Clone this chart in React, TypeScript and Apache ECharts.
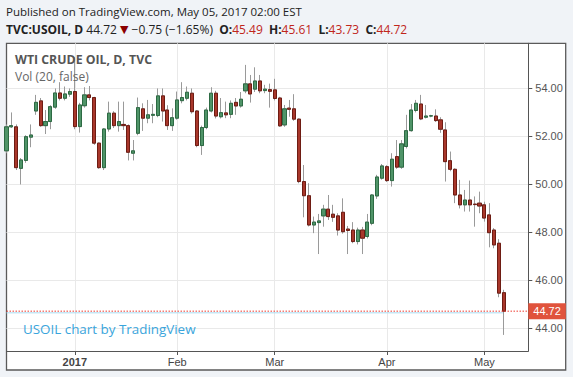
import React, { useEffect, useRef } from 'react';
import * as echarts from 'echarts';

// trading days (plus 5 empty future days at the right edge)
const dates: string[] = [
  '2016-12-13','2016-12-14','2016-12-15','2016-12-16','2016-12-19','2016-12-20','2016-12-21','2016-12-22','2016-12-23','2016-12-26','2016-12-27','2016-12-28','2016-12-29','2016-12-30',
  '2017-01-03','2017-01-04','2017-01-05','2017-01-06','2017-01-09','2017-01-10','2017-01-11','2017-01-12','2017-01-13','2017-01-16','2017-01-17','2017-01-18','2017-01-19','2017-01-20','2017-01-23','2017-01-24','2017-01-25','2017-01-26','2017-01-27','2017-01-30','2017-01-31',
  '2017-02-01','2017-02-02','2017-02-03','2017-02-06','2017-02-07','2017-02-08','2017-02-09','2017-02-10','2017-02-13','2017-02-14','2017-02-15','2017-02-16','2017-02-17','2017-02-20','2017-02-21','2017-02-22','2017-02-23','2017-02-24','2017-02-27','2017-02-28',
  '2017-03-01','2017-03-02','2017-03-03','2017-03-06','2017-03-07','2017-03-08','2017-03-09','2017-03-10','2017-03-13','2017-03-14','2017-03-15','2017-03-16','2017-03-17','2017-03-20','2017-03-21','2017-03-22','2017-03-23','2017-03-24','2017-03-27','2017-03-28','2017-03-29','2017-03-30','2017-03-31',
  '2017-04-03','2017-04-04','2017-04-05','2017-04-06','2017-04-07','2017-04-10','2017-04-11','2017-04-12','2017-04-13','2017-04-14','2017-04-17','2017-04-18','2017-04-19','2017-04-20','2017-04-21','2017-04-24','2017-04-25','2017-04-26','2017-04-27','2017-04-28',
  '2017-05-01','2017-05-02','2017-05-03','2017-05-04','2017-05-05',
  '2017-05-08','2017-05-09','2017-05-10','2017-05-11','2017-05-12',
];

const opens: number[] = [
  51.40, 52.40, 52.40, 50.67, 51.00, 51.97, 53.06, 53.48, 52.45, 52.62, 53.22, 53.81, 53.59, 53.76,
  53.87, 52.41, 53.28, 53.73, 53.62, 51.72, 50.70, 52.31, 52.97, 52.45, 52.50, 52.45, 51.30, 52.13, 53.15, 52.76, 52.88, 52.87, 53.69, 53.10, 52.45,
  52.76, 53.49, 53.59, 53.80, 53.06, 51.62, 52.37, 53.06, 53.80, 52.82, 52.98, 52.92, 53.42, 53.27, 53.90, 54.19, 53.97, 54.31, 53.91, 53.95,
  53.94, 53.60, 52.48, 53.18, 53.15, 52.72, 50.12, 49.53, 48.31, 48.41, 48.69, 48.97, 48.76, 48.69, 48.84, 48.14, 48.10, 47.62, 48.10, 47.83, 48.38, 49.52, 50.26,
  50.74, 50.16, 51.16, 50.72, 51.58, 52.24, 53.08, 53.35, 52.80, 52.85, 52.85, 52.69, 52.27, 50.99, 50.63, 49.56, 49.15, 49.35, 49.18, 49.22,
  49.15, 48.73, 48.10, 47.55, 45.49,
];
const highs: number[] = [
  52.50, 53.00, 52.50, 51.10, 52.05, 52.50, 53.73, 53.60, 53.10, 53.30, 54.00, 54.26, 54.08, 54.00,
  55.30, 53.40, 54.05, 54.10, 53.65, 51.75, 52.35, 53.45, 53.05, 53.45, 53.45, 52.50, 51.85, 53.62, 53.38, 53.52, 53.35, 54.00, 54.00, 53.30, 53.17,
  53.87, 54.26, 54.08, 54.00, 53.10, 52.45, 53.20, 54.05, 53.90, 53.60, 53.45, 53.50, 53.60, 53.85, 54.98, 54.56, 54.88, 54.56, 54.15, 54.20,
  54.40, 53.65, 53.31, 53.52, 53.76, 52.75, 50.81, 50.05, 48.66, 48.77, 49.15, 49.56, 49.15, 48.80, 49.42, 48.27, 48.43, 48.20, 48.23, 48.77, 49.60, 50.40, 50.85,
  50.80, 51.30, 51.85, 51.85, 52.90, 53.35, 53.52, 53.73, 53.31, 52.90, 53.13, 52.80, 52.59, 51.37, 50.67, 50.19, 49.77, 50.16, 49.50, 49.70,
  49.28, 49.22, 48.18, 47.72, 45.61,
];
const lows: number[] = [
  51.30, 52.35, 50.60, 50.00, 50.90, 51.55, 52.90, 52.40, 52.10, 52.30, 53.15, 53.50, 53.50, 53.65,
  52.30, 52.16, 53.20, 53.50, 51.65, 50.65, 50.60, 52.20, 52.35, 52.20, 52.27, 51.00, 51.00, 52.05, 52.23, 52.55, 52.55, 52.80, 52.62, 52.27, 52.23,
  52.70, 53.38, 53.50, 52.95, 51.55, 51.23, 52.30, 53.00, 52.75, 52.75, 52.76, 52.76, 52.90, 53.20, 53.80, 53.41, 53.85, 53.80, 53.80, 53.20,
  53.50, 52.40, 52.40, 52.82, 52.65, 50.05, 48.63, 48.25, 47.97, 47.10, 48.24, 48.52, 48.44, 47.87, 47.95, 47.10, 47.55, 47.50, 47.10, 47.75, 48.30, 49.40, 50.20,
  50.10, 49.91, 50.65, 50.65, 51.50, 52.20, 53.00, 52.68, 52.75, 52.80, 52.60, 52.15, 50.12, 50.55, 49.22, 49.00, 48.87, 48.87, 48.24, 48.80,
  48.45, 47.38, 47.34, 45.30, 43.73,
];
const closes: number[] = [
  52.40, 52.45, 50.70, 51.02, 51.99, 52.06, 53.42, 52.45, 52.62, 53.24, 53.81, 53.59, 53.77, 53.87,
  52.41, 53.31, 53.73, 53.62, 51.72, 50.70, 52.31, 52.97, 52.45, 52.62, 52.45, 51.34, 51.40, 53.20, 52.76, 52.90, 52.92, 53.69, 53.06, 52.45, 52.78,
  53.52, 53.62, 53.84, 53.03, 51.62, 52.37, 53.10, 53.80, 52.85, 52.99, 52.90, 53.38, 53.27, 53.55, 54.19, 53.77, 54.31, 53.90, 53.97, 53.88,
  53.58, 52.44, 53.15, 53.13, 52.72, 50.12, 49.53, 48.31, 48.43, 48.48, 48.97, 48.66, 48.63, 48.10, 48.03, 48.08, 47.62, 48.10, 47.76, 48.43, 49.56, 50.31, 50.77,
  50.16, 51.05, 50.72, 51.69, 52.24, 53.10, 53.38, 52.73, 52.85, 52.86, 52.66, 52.30, 50.95, 50.63, 49.56, 49.15, 49.35, 49.15, 49.16, 49.10,
  48.60, 47.99, 47.48, 45.47, 44.72,
];

const monthLabels: Record<string, string> = {
  '2017-01-03': '2017',
  '2017-02-01': 'Feb',
  '2017-03-01': 'Mar',
  '2017-04-03': 'Apr',
  '2017-05-01': 'May',
};
const yTicks: number[] = [44, 46, 48, 50, 52, 54];
const lastPrice = 44.72;
const lastPriceShadow = 44.65;

const UP = '#4f9468';
const UP_BORDER = '#2d6a43';
const DOWN = '#a8372b';
const DOWN_BORDER = '#6e1c13';
const WICK = '#9a9a9a';
const AXIS = '#555';
const GRID = '#e9e9e9';

export default function App() {
  const ref = useRef<HTMLDivElement>(null);
  useEffect(() => {
    const chart = echarts.init(ref.current!, null, { renderer: 'svg' });
    const wickData = opens.map((o, i) => [o, closes[i], lows[i], highs[i]]);
    const bodyData = opens.map((o, i) => [o, closes[i], Math.min(o, closes[i]), Math.max(o, closes[i])]);
    const isMonth = (_i: number, v: string) => v in monthLabels;
    const lastIdx = opens.length - 1;

    chart.setOption({
      animation: false,
      backgroundColor: '#f0f3f7',
      grid: { left: 6.5, top: 43.3, right: 44.7, bottom: 26, containLabel: false },
      xAxis: {
        type: 'category',
        data: dates,
        boundaryGap: false,
        axisLine: { show: true, lineStyle: { color: AXIS, width: 1 } },
        axisTick: { show: true, interval: isMonth, length: 4, lineStyle: { color: AXIS } },
        splitLine: { show: true, interval: isMonth, lineStyle: { color: GRID, width: 1 } },
        axisLabel: {
          interval: isMonth,
          margin: 5,
          formatter: (v: string) => (v === '2017-01-03' ? '{b|2017}' : '{n|' + (monthLabels[v] || '') + '}'),
          rich: {
            b: { fontWeight: 'bold', fontSize: 11, color: '#444', fontFamily: 'Liberation Sans, Arial' },
            n: { fontSize: 11, color: '#444', fontFamily: 'Liberation Sans, Arial' },
          },
        },
      },
      yAxis: {
        type: 'value',
        position: 'right',
        min: 43.06,
        max: 55.88,
        scale: true,
        axisLine: { show: true, lineStyle: { color: AXIS, width: 1 } },
        axisTick: { show: true, length: 4, customValues: yTicks, lineStyle: { color: AXIS } },
        axisLabel: {
          customValues: yTicks,
          formatter: (v: number) => v.toFixed(2),
          color: '#555',
          fontSize: 11,
          margin: 7,
          fontFamily: 'Liberation Sans, Arial',
        },
        splitLine: { show: true, lineStyle: { color: GRID, width: 1 } },
      },
      series: [
        {
          type: 'line',
          name: 'shadow',
          data: [[dates[0], lastPriceShadow], [dates[lastIdx], lastPriceShadow]],
          symbol: 'none',
          silent: true,
          lineStyle: { color: '#a9dcf2', width: 1, type: 'solid' },
          z: 1,
        },
        {
          type: 'candlestick',
          name: 'wicks',
          data: wickData,
          barWidth: 3.6,
          clip: true,
          silent: true,
          itemStyle: {
            color: 'rgba(0,0,0,0)',
            color0: 'rgba(0,0,0,0)',
            borderColor: WICK,
            borderColor0: WICK,
            borderColorDoji: WICK,
            borderWidth: 1,
          },
          z: 2,
        },
        {
          type: 'candlestick',
          name: 'bodies',
          data: bodyData,
          barWidth: 3.6,
          clip: true,
          silent: true,
          itemStyle: {
            color: UP,
            color0: DOWN,
            borderColor: UP_BORDER,
            borderColor0: DOWN_BORDER,
            borderColorDoji: DOWN_BORDER,
            borderWidth: 1,
          },
          z: 3,
        },
        {
          type: 'line',
          name: 'last',
          data: [[dates[0], lastPrice], [dates[dates.length - 1], lastPrice]],
          symbol: 'none',
          silent: true,
          clip: false,
          lineStyle: { color: '#ee3b30', width: 1, type: [1.5, 1.5] },
          z: 4,
          endLabel: {
            show: true,
            distance: 0,
            formatter: () => lastPrice.toFixed(2),
            backgroundColor: '#e0533c',
            color: '#fff',
            fontSize: 11,
            fontFamily: 'Liberation Sans, Arial',
            lineHeight: 12,
            padding: [2, 5, 2, 5],
          },
        },
      ],
      graphic: [
        {
          type: 'rect',
          z: -10,
          silent: true,
          shape: { x: 6.5, y: 43.3, width: 559.2, height: 326.7 },
          style: { fill: '#ffffff', stroke: '#5a5a5a', lineWidth: 1.3 },
        },
        {
          type: 'text',
          x: 6,
          y: 5,
          z: 10,
          style: { text: 'Published on TradingView.com, May 05, 2017 02:00 EST', font: '11.5px "Open Sans"', fill: '#222' },
        },
        {
          type: 'text',
          x: 6,
          y: 23,
          z: 10,
          style: {
            text: '{b|TVC:USOIL, D} 44.72 {t|▼} \u22120.75 (\u22121.65%)  {b|O:}{r|45.49}  {b|H:}{r|45.61}  {b|L:}{r|43.73}  {b|C:}{r|44.72}',
            font: '12px "Open Sans"',
            fill: '#222',
            rich: {
              b: { fontWeight: 'bold', fontSize: 12, fontFamily: 'Open Sans', fill: '#222' },
              r: { fontSize: 12, fontFamily: 'Open Sans', fill: '#c0261b' },
              t: { fontSize: 11, fontFamily: 'DejaVu Sans', fill: '#8b0000' },
            },
          },
        },
        {
          type: 'text',
          x: 15,
          y: 53,
          z: 10,
          style: { text: 'WTI CRUDE OIL, D, TVC', font: 'bold 12.3px "Open Sans"', fill: '#555' },
        },
        {
          type: 'text',
          x: 15,
          y: 70,
          z: 10,
          style: { text: 'Vol (20, false)', font: '12px "Open Sans"', fill: '#666' },
        },
        {
          type: 'text',
          x: 23,
          y: 322,
          z: 10,
          style: { text: 'USOIL chart by TradingView', font: '13.4px "Open Sans"', fill: '#3aa5dc' },
        },
      ],
    });
    return () => chart.dispose();
  }, []);
  return <div ref={ref} style={{ position: 'fixed', left: 0, top: 0, width: 573, height: 377 }} />;
}
